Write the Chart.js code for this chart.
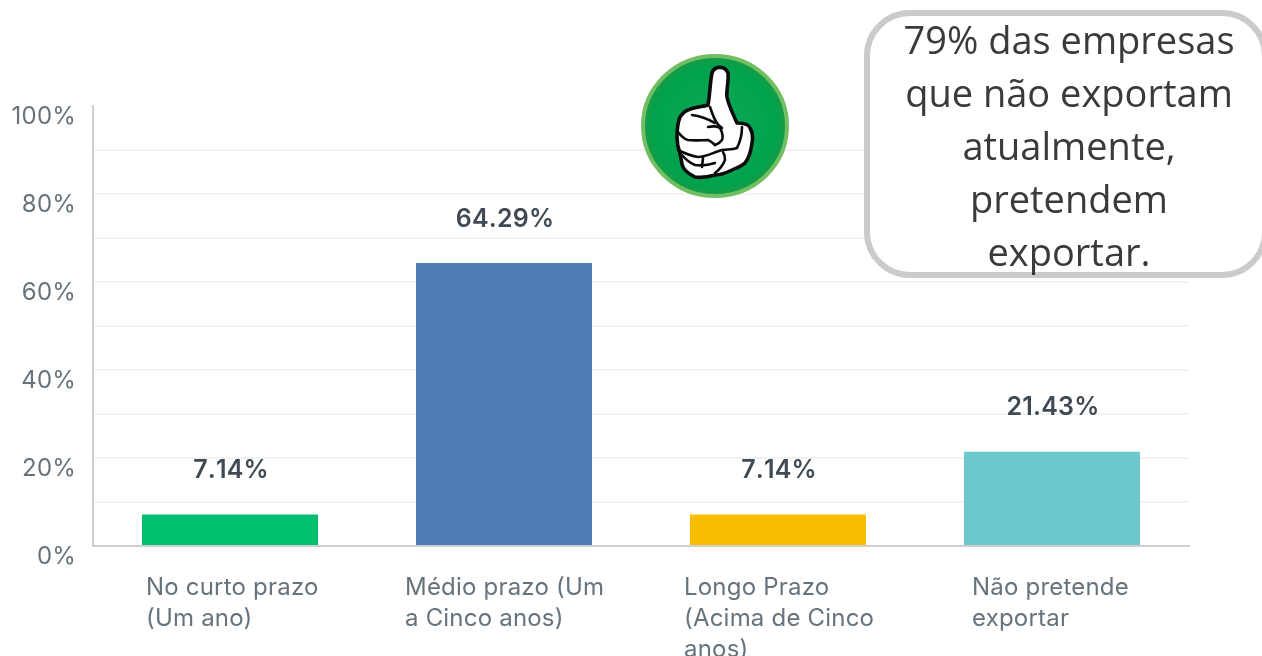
<!DOCTYPE html>
<html lang="pt"><head><meta charset="utf-8">
<script src="https://cdn.jsdelivr.net/npm/chart.js@4/dist/chart.umd.min.js"></script>
<style>
html,body{margin:0;padding:0;background:#fff;width:1262px;height:656px;overflow:hidden}
#c{position:absolute;left:0;top:0;filter:blur(.5px)}
#note{position:absolute;left:864px;top:10px;width:404px;height:268px;box-sizing:border-box;border:6px solid #cbcbcb;border-radius:46px;background:#fff;
 font:38px/53px "Open Sans",sans-serif;color:#3a3a3a;text-align:center;filter:blur(.3px)}
#note div{position:absolute;left:-6px;width:410px;top:-3px}
#thumb{position:absolute;left:0;top:0;filter:blur(.4px)}
</style></head><body>
<canvas id="c" width="1262" height="656"></canvas>
<svg id="thumb" width="1262" height="656" viewBox="0 0 1262 656">
 <defs><radialGradient id="g"><stop offset="0" stop-color="#10a858"/><stop offset="0.85" stop-color="#00a24d"/><stop offset="1" stop-color="#1a9a45"/></radialGradient></defs>
 <ellipse cx="715" cy="126" rx="72" ry="70" fill="url(#g)" stroke="#72bf63" stroke-width="4"/>
 <path d="M708 105 C710 95 710 82 712 73 C714 66 725 65 728 73 C729 82 726 90 727 97 C729 107 734 116 737 123 C744 123 749 125 750 128 C753 133 753 138 752 143 C751 151 749 158 745 163 C741 167 736 168 732 170 C726 173 721 175 715 175 C708 177 701 178 695 177 C689 174 685 171 683 167 C681 162 681 157 680 153 C678 148 677 142 677 137 C677 129 678 122 680 117 C683 113 685 111 688 110 C695 107 702 107 708 105 Z" fill="#fff" stroke="#0c0c0c" stroke-width="3.6" stroke-linejoin="round"/>
 <g fill="none" stroke="#0c0c0c" stroke-width="2.6" stroke-linecap="round" stroke-linejoin="round">
  <path d="M692 115 C700 116 708 119 715 123"/>
  <path d="M710 107 C712 113 714 119 717 123 C718 125 720 126 722 128"/>
  <path d="M708 127 C712 126 718 126 720 128 C723 133 723 138 722 140 C720 143 718 144 715 145"/>
  <path d="M678 132 C681 136 684 139 688 140 C695 141 702 140 708 140 C711 141 713 143 715 145"/>
  <path d="M678 150 C684 153 691 156 698 157 C706 157 714 152 722 150 C727 149 732 150 737 148 C740 142 742 134 742 127"/>
  <path d="M682 155 C686 160 690 163 695 165 C702 166 709 165 715 163"/>
  <path d="M703 157 C703 161 702 164 702 167"/>
  <path d="M723 152 C725 155 725 158 725 160 C723 165 719 170 715 173"/>
 </g>
</svg>
<div id="note"><div>79% das empresas<br>que não exportam<br>atualmente,<br>pretendem<br>exportar.</div></div>
<script>
const categories = [["No curto prazo","(Um ano)"],["Médio prazo (Um","a Cinco anos)"],["Longo Prazo","(Acima de Cinco","anos)"],["Não pretende","exportar"]];
const values = [7.14,64.29,7.14,21.43];
const valueLabels = ["7.14%","64.29%","7.14%","21.43%"];
const barColors = ["#00bf6f","#507cb6","#f9be00","#6bc8cd"];
const yTickLabels = ["0%","20%","40%","60%","80%","100%"];
const labelShift = [-84,-99,-94,-80];

const fontFam = 'Inter, "Open Sans", sans-serif';
const shiftTicks = {id:'shiftTicks', beforeDraw(chart){
  const s = chart.scales.x;
  s.getLabelItems().forEach((it,i)=>{ it.options.translation[0] = s.getPixelForTick(i)+labelShift[i]; });
  chart.ctx.letterSpacing='0.2px';
}};
const valueText = {id:'valueText', afterDatasetsDraw(chart){
  const ctx = chart.ctx, meta = chart.getDatasetMeta(0);
  ctx.save();
  ctx.font = '600 25px '+fontFam; ctx.fillStyle = '#3f4a54';
  ctx.fontKerning='none'; ctx.letterSpacing='0.2px';
  ctx.textAlign='center'; ctx.textBaseline='middle';
  meta.data.forEach((b,i)=>ctx.fillText(valueLabels[i], b.x+1, b.y-44));
  ctx.restore();
}};
new Chart(document.getElementById('c'),{
  type:'bar',
  data:{labels:categories,datasets:[{data:values,backgroundColor:barColors,barPercentage:176/274,categoryPercentage:1,borderWidth:0}]},
  plugins:[shiftTicks,valueText],
  options:{
    responsive:false,animation:false,
    layout:{padding:{top:106,right:73,left:0,bottom:0}},
    plugins:{legend:{display:false},tooltip:{enabled:false},title:{display:false}},
    scales:{
      x:{
        afterFit(s){s.height=110;},
        grid:{display:false,drawTicks:false},
        border:{color:'#cfcfcf',width:2},
        ticks:{align:'start',autoSkip:false,maxRotation:0,minRotation:0,padding:26,color:'#66737c',font:{family:fontFam,size:24,lineHeight:31/24}}
      },
      y:{
        min:0,max:100,
        afterFit(s){s.width=93;},
        grid:{drawTicks:false,lineWidth:2,color:c=>(c.tick.value===100||c.tick.value===0)?'rgba(0,0,0,0)':'#f2f2f2'},
        border:{color:'#cfcfcf',width:2},
        ticks:{stepSize:10,autoSkip:false,padding:17,labelOffset:11,color:'#66737c',font:{family:fontFam,size:24},
          callback:v=>v%20===0?yTickLabels[v/20]:''}
      }
    }
  }
});
</script>
</body></html>
